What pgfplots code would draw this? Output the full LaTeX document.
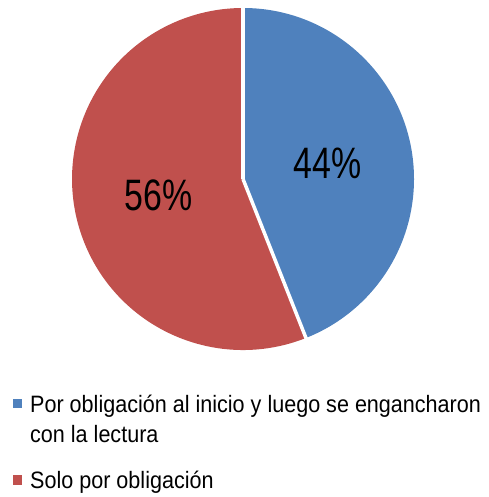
\documentclass[border=0pt]{standalone}
\usepackage{pgfplots}
\usepackage{pgfplotstable}
\pgfplotsset{compat=1.18}
\usetikzlibrary{calc}
\usepackage{fontspec}
\setmainfont{Liberation Sans}
\newfontfamily\labelfont[FakeStretch=0.77]{Liberation Sans}
\newfontfamily\legendfont[FakeStretch=0.91]{Liberation Sans}
\definecolor{pieblue}{HTML}{4F81BD}
\definecolor{piered}{HTML}{C0504D}
\pgfplotstableread{
label value
A 44
B 56
}\piedata
\begin{document}
\begin{tikzpicture}
\pgfplotstablegetelem{0}{value}\of\piedata \let\va\pgfplotsretval
\pgfplotstablegetelem{1}{value}\of\piedata \let\vb\pgfplotsretval
\pgfmathsetmacro\tot{\va+\vb}
\pgfmathsetmacro\angA{90-3.6*(\va/\tot)*100}
\pgfmathsetmacro\angB{\angA-3.6*(\vb/\tot)*100}
\pgfmathsetmacro\midA{(90+\angA)/2}
\pgfmathsetmacro\midB{(\angA+\angB)/2}
\begin{axis}[scale only axis, width=488pt, height=497pt,
  xmin=0, xmax=488, ymin=0, ymax=497, hide axis, clip=false]
\path[use as bounding box] (rel axis cs:0,0) rectangle (rel axis cs:1,1);
\fill[pieblue] (axis cs:243,318) -- ++(90:171pt) arc[start angle=90, end angle=\angA, radius=171pt] -- cycle;
\fill[piered] (axis cs:243,318) -- ++(\angA:171pt) arc[start angle=\angA, end angle=\angB, radius=171pt] -- cycle;
\draw[white, line width=3.5pt] (axis cs:243,318) -- ++(90:173pt);
\draw[white, line width=3.5pt] (axis cs:243,318) -- ++(\angA:173pt);
\node[font=\labelfont\fontsize{44}{48}\selectfont, inner sep=0pt] at ($(axis cs:243,318)+(\midA:86pt)$) {\va\%};
\node[font=\labelfont\fontsize{44}{48}\selectfont, inner sep=0pt] at ($(axis cs:243,318)+(\midB:86pt)$) {\vb\%};
% legend
\fill[pieblue] (axis cs:12.7,88.7) rectangle (axis cs:22,97.7);
\fill[piered] (axis cs:12.7,12.3) rectangle (axis cs:22,21.7);
\node[font=\legendfont\fontsize{23.7}{28}\selectfont, inner sep=0pt, anchor=base west] at (axis cs:30,84.3) {Por obligación al inicio y luego se engancharon};
\node[font=\legendfont\fontsize{23.7}{28}\selectfont, inner sep=0pt, anchor=base west] at (axis cs:30,54) {con la lectura};
\node[font=\legendfont\fontsize{23.7}{28}\selectfont, inner sep=0pt, anchor=base west] at (axis cs:30,9) {Solo por obligación};
\end{axis}
\end{tikzpicture}
\end{document}
